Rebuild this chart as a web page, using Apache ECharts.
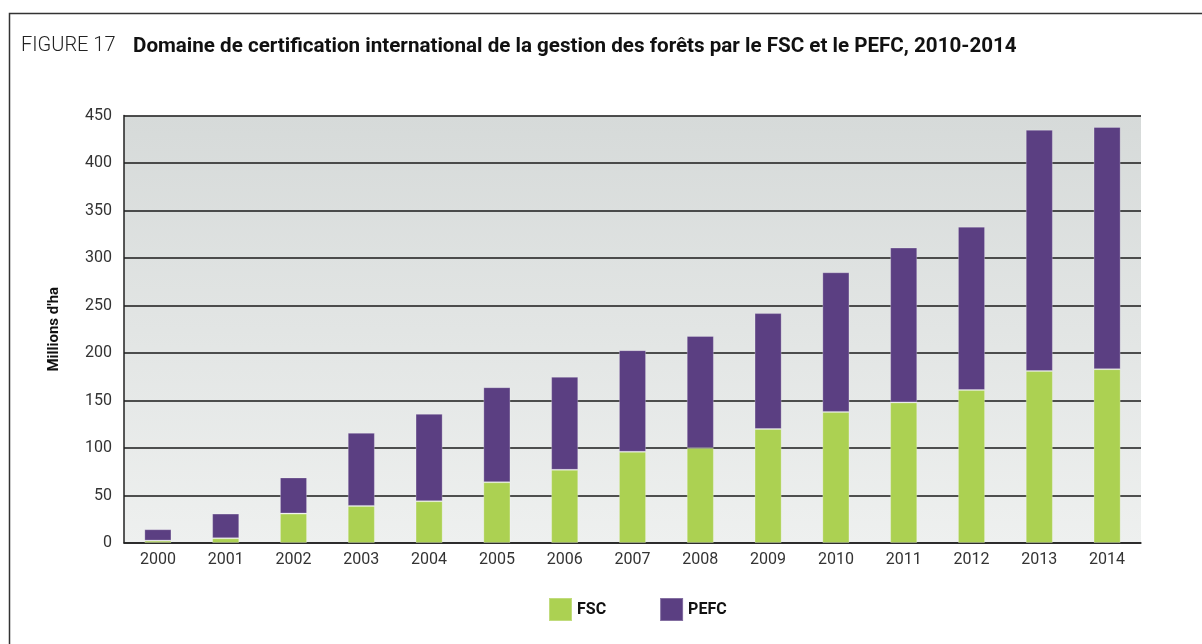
<!DOCTYPE html>
<html>
<head>
    <meta charset="utf-8">
    <title>ECharts</title>
    <style>
        html,body{width:100%;height:100%;overflow:hidden;padding:0;margin:0;background:#fff;}
        #main{width:1202px;height:644px;}
    </style>
    <script src="https://cdn.jsdelivr.net/npm/echarts@6/dist/echarts.min.js"></script>
</head>
<body>
<div id="main"></div>
<script type="text/javascript">
    // données
    var years = ['2000','2001','2002','2003','2004','2005','2006','2007','2008','2009','2010','2011','2012','2013','2014'];
    var fsc  = [2.5, 5, 31, 39, 44, 64, 77, 96, 100, 120, 138, 148, 161, 181, 183];
    var pefc = [12, 26, 38, 77, 92, 100, 98, 107, 118, 122, 147, 163, 172, 254, 255];
    var yTicks = [0, 50, 100, 150, 200, 250, 300, 350, 400, 450];

    var narrow = '"Roboto", sans-serif';

    var myChart = echarts.init(document.getElementById('main'));

    var option = {
        animation: false,
        backgroundColor: '#fff',
        graphic: [
            {
                type: 'rect', left: 7, top: 11, z: 0,
                shape: {width: 1300, height: 700},
                style: {fill: 'none', stroke: '#333', lineWidth: 1.5}
            },
            {
                type: 'text', left: 21, top: 36,
                style: {text: 'FIGURE 17', font: '300 20px ' + narrow, fill: '#222'}
            },
            {
                type: 'text', left: 133, top: 36,
                style: {text: 'Domaine de certification international de la gestion des forêts par le FSC et le PEFC, 2010-2014',
                    font: 'bold 20.6px ' + narrow, fill: '#111'}
            }
        ],
        legend: {
            bottom: 17,
            left: 543,
            itemWidth: 23,
            itemHeight: 23,
            itemGap: 53,
            icon: 'rect',
            textStyle: {fontFamily: narrow, fontWeight: 'bold', fontSize: 16, color: '#111'},
            data: ['FSC', 'PEFC']
        },
        grid: {
            left: 124, right: 61, top: 115.5, bottom: 101,
            show: true,
            borderWidth: 0,
            backgroundColor: new echarts.graphic.LinearGradient(0, 0, 0, 1, [
                {offset: 0, color: '#d6dad9'},
                {offset: 1, color: '#eef0ef'}
            ])
        },
        xAxis: {
            type: 'category',
            data: years,
            axisLine: {lineStyle: {color: '#222', width: 1.5}},
            axisTick: {show: false},
            axisLabel: {fontFamily: narrow, fontSize: 16, color: '#333', margin: 9}
        },
        yAxis: {
            type: 'value',
            min: yTicks[0], max: yTicks[yTicks.length - 1], interval: 50,
            name: "Millions d'ha",
            nameLocation: 'middle',
            nameGap: 62,
            nameTextStyle: {fontFamily: narrow, fontWeight: 'bold', fontSize: 15, color: '#111'},
            axisLine: {show: true, lineStyle: {color: '#222', width: 1.5}},
            axisTick: {show: false},
            axisLabel: {fontFamily: narrow, fontSize: 16, color: '#333', margin: 12},
            splitLine: {lineStyle: {color: '#1a1a1a', width: 1.5}}
        },
        series: [
            {
                name: 'FSC', type: 'bar', stack: 'total', data: fsc,
                barWidth: '40%',
                itemStyle: {color: '#acd152', borderColor: 'rgba(255,255,255,0.25)', borderWidth: 1}
            },
            {
                name: 'PEFC', type: 'bar', stack: 'total', data: pefc,
                barWidth: '40%',
                itemStyle: {color: '#5b3f82', borderColor: 'rgba(255,255,255,0.25)', borderWidth: 1}
            }
        ]
    };

    myChart.setOption(option);
</script>
</body>
</html>
